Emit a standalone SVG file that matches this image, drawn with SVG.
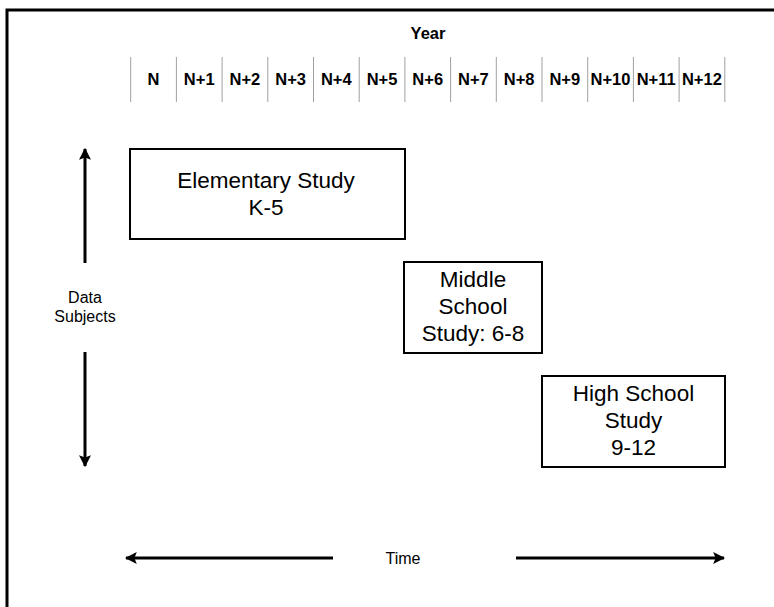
<svg xmlns="http://www.w3.org/2000/svg" width="774" height="607" viewBox="0 0 774 607">
<defs>
<style>
.t{font-family:"Liberation Sans",Arial,sans-serif;fill:#000;text-anchor:middle}
.hd{font-size:16.5px;font-weight:bold}
.bx{font-size:22.5px}
.lb{font-size:16px}
.box{fill:#fff;stroke:#000;stroke-width:2}
.div{stroke:#a0a0a0;stroke-width:1}
.arr{stroke:#000;stroke-width:3;fill:none}
</style>
<marker id="ah" viewBox="0 0 10 10" refX="9" refY="5" markerWidth="4" markerHeight="4" markerUnits="strokeWidth" orient="auto">
<path d="M0,0 L10,5 L0,10 L2,5 Z" fill="#000"/>
</marker>
</defs>
<rect width="774" height="607" fill="#fff"/>
<path d="M7,612 V10 H780" fill="none" stroke="#000" stroke-width="3"/>
<g id="header">
<text class="t hd" x="428" y="39">Year</text>
<g class="div">
<line x1="130.7" y1="57" x2="130.7" y2="102"/>
<line x1="176.4" y1="57" x2="176.4" y2="102"/>
<line x1="222.1" y1="57" x2="222.1" y2="102"/>
<line x1="267.8" y1="57" x2="267.8" y2="102"/>
<line x1="313.5" y1="57" x2="313.5" y2="102"/>
<line x1="359.2" y1="57" x2="359.2" y2="102"/>
<line x1="404.9" y1="57" x2="404.9" y2="102"/>
<line x1="450.6" y1="57" x2="450.6" y2="102"/>
<line x1="496.3" y1="57" x2="496.3" y2="102"/>
<line x1="542" y1="57" x2="542" y2="102"/>
<line x1="587.7" y1="57" x2="587.7" y2="102"/>
<line x1="633.4" y1="57" x2="633.4" y2="102"/>
<line x1="679.1" y1="57" x2="679.1" y2="102"/>
<line x1="724.8" y1="57" x2="724.8" y2="102"/>
</g>
<text class="t hd" x="153.5" y="84.5">N</text>
<text class="t hd" x="199.2" y="84.5">N+1</text>
<text class="t hd" x="244.9" y="84.5">N+2</text>
<text class="t hd" x="290.6" y="84.5">N+3</text>
<text class="t hd" x="336.3" y="84.5">N+4</text>
<text class="t hd" x="382" y="84.5">N+5</text>
<text class="t hd" x="427.7" y="84.5">N+6</text>
<text class="t hd" x="473.4" y="84.5">N+7</text>
<text class="t hd" x="519.1" y="84.5">N+8</text>
<text class="t hd" x="564.8" y="84.5">N+9</text>
<text class="t hd" x="610.5" y="84.5">N+10</text>
<text class="t hd" x="656.2" y="84.5">N+11</text>
<text class="t hd" x="701.9" y="84.5">N+12</text>
</g>
<g id="elementary">
<rect class="box" x="130" y="149" width="275" height="90"/>
<text class="t bx" x="266" y="188">Elementary Study</text>
<text class="t bx" x="266" y="215">K-5</text>
</g>
<g id="middle">
<rect class="box" x="404" y="262" width="138" height="91"/>
<text class="t bx" x="473" y="287">Middle</text>
<text class="t bx" x="473" y="314">School</text>
<text class="t bx" x="473" y="341">Study: 6-8</text>
</g>
<g id="high">
<rect class="box" x="542" y="376" width="183" height="91"/>
<text class="t bx" x="633.5" y="401">High School</text>
<text class="t bx" x="633.5" y="428">Study</text>
<text class="t bx" x="633.5" y="455">9-12</text>
</g>
<g id="data-subjects">
<text class="t lb" x="85" y="303">Data</text>
<text class="t lb" x="85" y="322">Subjects</text>
</g>
<g id="time">
<text class="t lb" x="403" y="564">Time</text>
</g>
<g id="connectors">
<line class="arr" x1="85" y1="263" x2="85" y2="149" marker-end="url(#ah)"/>
<line class="arr" x1="85" y1="352" x2="85" y2="466" marker-end="url(#ah)"/>
<line class="arr" x1="333" y1="558" x2="126" y2="558" marker-end="url(#ah)"/>
<line class="arr" x1="516" y1="558" x2="724" y2="558" marker-end="url(#ah)"/>
</g>
</svg>
